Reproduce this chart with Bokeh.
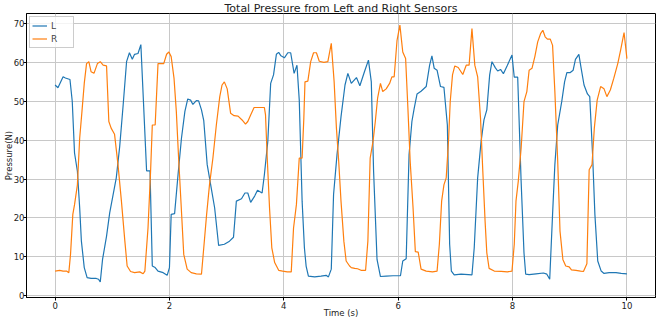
from bokeh.plotting import figure
from bokeh.models import Range1d, FixedTicker
from bokeh.embed import file_html
from bokeh.resources import INLINE

# ---- data ----
t_L = [0.00, 0.05, 0.14, 0.18, 0.26, 0.30, 0.34, 0.39, 0.43, 0.46, 0.51, 0.56, 0.63, 0.72, 0.76, 0.79,
       0.83, 0.90, 0.955, 1.01, 1.07, 1.13, 1.19, 1.25, 1.30, 1.35, 1.39, 1.45, 1.50, 1.60, 1.66,
       1.70, 1.75, 1.80, 1.89, 1.96, 2.00, 2.03, 2.09, 2.15, 2.21, 2.27, 2.32, 2.37, 2.41, 2.47, 2.51,
       2.56, 2.60, 2.66, 2.73, 2.79, 2.86, 2.96, 3.05, 3.12, 3.17, 3.26, 3.32, 3.37, 3.42, 3.49, 3.54,
       3.62, 3.66, 3.72, 3.77, 3.82, 3.87, 3.91, 3.95, 4.01, 4.07, 4.12, 4.18, 4.23, 4.27, 4.32, 4.36,
       4.39, 4.43, 4.54, 4.65, 4.74, 4.78, 4.83, 4.87, 4.93, 5.00, 5.07, 5.12, 5.18, 5.27, 5.33, 5.41,
       5.48, 5.53, 5.57, 5.63, 5.69, 5.79, 5.91, 6.04, 6.08, 6.14, 6.19, 6.24, 6.28, 6.33, 6.40, 6.49,
       6.55, 6.59, 6.63, 6.68, 6.74, 6.80, 6.86, 6.90, 6.93, 6.98, 7.10, 7.29, 7.33, 7.39, 7.45, 7.50,
       7.55, 7.60, 7.64, 7.70, 7.74, 7.79, 7.84, 7.91, 7.99, 8.03, 8.09, 8.15, 8.20, 8.23, 8.29, 8.41,
       8.54, 8.60, 8.65, 8.70, 8.74, 8.79, 8.86, 8.91, 8.95, 9.01, 9.06, 9.10, 9.16, 9.20, 9.25, 9.31,
       9.35, 9.40, 9.44, 9.49, 9.55, 9.60, 9.69, 9.81, 9.90, 10.00]
L = [54.2, 53.5, 56.3, 56.0, 55.6, 50.0, 36.7, 32.0, 22.6, 14.0, 7.2, 4.6, 4.4, 4.4, 4.2, 3.5,
     9.3, 15.3, 21.3, 25.6, 30.3, 38.4, 49.0, 60.2, 62.5, 60.8, 62.1, 62.3, 64.6, 32.1, 32.1,
     7.6, 7.2, 6.3, 5.9, 5.2, 7.2, 20.9, 21.1, 31.1, 40.5, 47.4, 50.6, 50.3, 49.2, 50.2, 50.1,
     47.8, 45.0, 33.7, 27.7, 22.6, 12.9, 13.2, 14.0, 15.0, 24.3, 24.9, 26.4, 26.4, 24.0, 25.6, 27.1,
     26.4, 31.1, 39.7, 54.6, 56.8, 62.1, 62.6, 61.7, 61.2, 62.5, 62.5, 57.2, 59.3, 50.3, 24.3, 12.3,
     7.6, 5.0, 4.8, 5.0, 5.2, 4.8, 6.8, 26.0, 36.2, 46.0, 54.2, 57.2, 54.6, 56.1, 54.0, 57.6,
     60.6, 55.0, 32.0, 9.3, 4.9, 5.0, 5.1, 5.1, 8.9, 9.5, 36.2, 44.8, 48.2, 51.9, 52.6, 53.8,
     59.3, 61.7, 58.5, 58.0, 53.8, 53.6, 43.9, 13.2, 6.3, 5.3, 5.5, 5.3, 12.3, 30.3, 39.7, 45.2,
     47.8, 56.8, 60.2, 58.6, 57.8, 58.2, 57.1, 59.3, 61.9, 56.2, 56.2, 29.4, 11.0, 5.5, 5.4, 5.6,
     5.8, 5.5, 4.2, 20.9, 33.7, 43.9, 49.9, 55.0, 57.4, 57.4, 58.0, 60.8, 62.1, 58.5, 54.2, 51.9,
     51.2, 36.2, 20.9, 8.9, 6.3, 5.7, 5.9, 5.9, 5.7, 5.6]

t_R = [0.00, 0.08, 0.14, 0.20, 0.24, 0.27, 0.31, 0.34, 0.39, 0.43, 0.47, 0.51, 0.55, 0.59, 0.63, 0.68,
       0.74, 0.79, 0.84, 0.90, 0.94, 0.98, 1.04, 1.10, 1.16, 1.22, 1.26, 1.32, 1.39, 1.48, 1.54, 1.57,
       1.625, 1.67, 1.70, 1.75, 1.80, 1.86, 1.90, 1.95, 1.99, 2.03, 2.08, 2.12, 2.16, 2.21, 2.25, 2.31,
       2.38, 2.47, 2.56, 2.60, 2.65, 2.70, 2.76, 2.82, 2.88, 2.92, 2.96, 3.01, 3.07, 3.13, 3.20, 3.27,
       3.33, 3.37, 3.42, 3.48, 3.55, 3.66, 3.68, 3.71, 3.75, 3.79, 3.84, 3.91, 3.98, 4.06, 4.13, 4.17,
       4.22, 4.27, 4.32, 4.35, 4.37, 4.42, 4.47, 4.52, 4.57, 4.62, 4.70, 4.77, 4.83, 4.88, 4.92, 4.96,
       5.00, 5.05, 5.09, 5.15, 5.18, 5.24, 5.29, 5.35, 5.43, 5.47, 5.51, 5.56, 5.60, 5.64, 5.69, 5.73,
       5.79, 5.85, 5.89, 5.93, 5.98, 6.03, 6.08, 6.13, 6.17, 6.21, 6.26, 6.30, 6.35, 6.40, 6.49, 6.60,
       6.68, 6.72, 6.76, 6.80, 6.84, 6.88, 6.91, 6.95, 6.99, 7.05, 7.13, 7.19, 7.24, 7.29, 7.34, 7.39,
       7.44, 7.48, 7.52, 7.55, 7.59, 7.68, 7.80, 7.91, 7.99, 8.03, 8.06, 8.10, 8.15, 8.20, 8.25, 8.29,
       8.34, 8.39, 8.44, 8.49, 8.53, 8.57, 8.61, 8.66, 8.70, 8.74, 8.79, 8.83, 8.88, 8.93, 8.99, 9.03,
       9.11, 9.19, 9.24, 9.30, 9.34, 9.39, 9.43, 9.48, 9.54, 9.60, 9.65, 9.71, 9.77, 9.84, 9.89, 9.95,
       10.00]
R = [6.3, 6.5, 6.3, 6.3, 5.9, 10.6, 20.9, 23.4, 28.5, 40.5, 47.4, 54.6, 59.7, 60.2, 57.6, 57.2,
     59.7, 60.2, 59.3, 59.1, 44.8, 43.1, 41.5, 33.7, 24.3, 14.0, 7.6, 6.2, 5.9, 6.1, 5.6, 6.3,
     17.4, 32.0, 43.9, 43.9, 59.7, 59.7, 59.7, 62.1, 62.7, 61.5, 55.9, 47.4, 35.4, 21.7, 10.6, 6.8,
     5.9, 5.6, 5.5, 12.3, 20.9, 28.5, 35.4, 43.9, 51.2, 54.2, 55.0, 53.2, 46.9, 46.3, 46.2, 45.2,
     44.1, 44.8, 46.5, 48.4, 48.4, 48.4, 46.5, 35.4, 22.6, 12.3, 8.5, 6.5, 6.3, 6.1, 6.1, 17.4,
     23.4, 35.4, 35.4, 45.6, 55.0, 55.2, 60.2, 62.5, 62.5, 60.3, 60.0, 60.2, 64.9, 55.0, 43.1, 34.5,
     24.3, 14.0, 8.9, 7.6, 7.2, 7.0, 6.9, 6.5, 6.5, 14.0, 35.4, 39.7, 44.8, 50.8, 54.6, 52.5,
     53.2, 54.6, 56.3, 56.3, 65.7, 69.6, 62.7, 61.0, 48.2, 34.5, 22.6, 11.3, 11.2, 6.8, 6.3, 6.1,
     6.3, 13.2, 24.3, 28.5, 30.3, 39.7, 49.9, 56.8, 59.1, 58.7, 56.9, 59.3, 59.3, 68.7, 59.3, 56.3,
     45.6, 32.0, 19.1, 11.0, 7.0, 6.3, 6.2, 6.1, 6.3, 13.2, 24.3, 29.4, 37.9, 49.9, 52.5, 58.0,
     58.5, 61.5, 65.3, 67.4, 68.3, 66.6, 66.0, 66.0, 64.4, 52.5, 34.5, 16.6, 9.3, 7.6, 7.4, 6.6,
     6.5, 6.3, 6.2, 8.2, 32.4, 33.7, 43.1, 50.3, 53.8, 53.2, 51.2, 52.9, 55.9, 59.7, 63.2, 67.7,
     61.0]

x_ticks = [0, 2, 4, 6, 8, 10]
y_ticks = [0, 10, 20, 30, 40, 50, 60, 70]
title_text = "Total Pressure from Left and Right Sensors"
x_label = "Time (s)"
y_label = "Pressure(N)"

FONT = "DejaVu Sans"

p = figure(width=658, height=320, output_backend="svg", toolbar_location=None,
           x_range=Range1d(-0.5, 10.5), y_range=Range1d(-0.5, 72.6),
           title=title_text)
p.min_border_left = 0
p.min_border_right = 3
p.min_border_top = 0
p.min_border_bottom = 0

p.title.align = "center"
p.title.text_font = FONT
p.title.text_font_size = "11px"
p.title.text_font_style = "normal"
p.title.text_color = "#222222"
p.title.standoff = -2
p.title.offset = 0

p.outline_line_color = "black"
p.outline_line_alpha = 1
p.outline_line_width = 1

for ax in (p.xaxis[0], p.yaxis[0]):
    ax.axis_line_color = "black"
    ax.major_tick_line_color = "black"
    ax.major_tick_out = 3
    ax.major_tick_in = 0
    ax.minor_tick_line_color = None
    ax.major_label_text_font = FONT
    ax.major_label_text_font_size = "8.5px"
    ax.major_label_text_color = "#222222"
    ax.axis_label_text_font = FONT
    ax.axis_label_text_font_size = "8.5px"
    ax.axis_label_text_font_style = "normal"
    ax.axis_label_text_color = "#222222"

p.yaxis.major_label_standoff = -1
p.yaxis.axis_label_standoff = -3
p.xaxis.major_label_standoff = 1
p.xaxis.axis_label_standoff = -4

p.xaxis.ticker = FixedTicker(ticks=x_ticks)
p.yaxis.ticker = FixedTicker(ticks=y_ticks)
p.xaxis.axis_label = x_label
p.yaxis.axis_label = y_label

p.xgrid.grid_line_color = "#c8c8c8"
p.ygrid.grid_line_color = "#c8c8c8"
p.xgrid.grid_line_width = 1
p.ygrid.grid_line_width = 1

p.line(t_L, L, line_color="#1f77b4", line_width=1.2, legend_label="L")
p.line(t_R, R, line_color="#ff7f0e", line_width=1.2, legend_label="R")

lg = p.legend[0]
lg.location = "top_left"
lg.margin = 3
lg.padding = 2
lg.spacing = 0
lg.label_text_font = FONT
lg.label_text_font_size = "9px"
lg.label_height = 13
lg.glyph_height = 13
lg.glyph_width = 15
lg.label_standoff = 4
lg.border_line_color = "#cccccc"
lg.border_line_alpha = 1
lg.background_fill_alpha = 0.8

open("out.html", "w").write(file_html(p, INLINE))
